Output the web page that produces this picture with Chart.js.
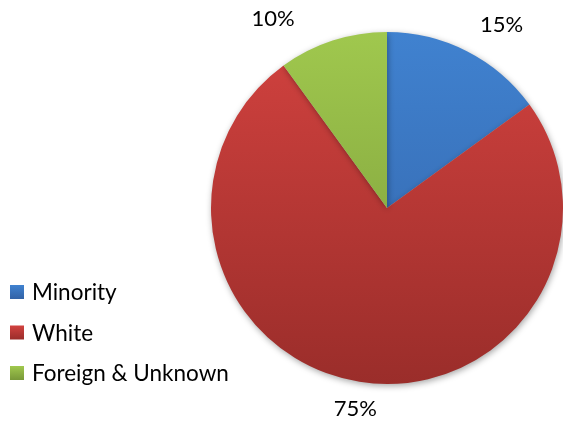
<!DOCTYPE html>
<html>
<head>
<meta charset="utf-8">
<script src="https://cdn.jsdelivr.net/npm/chart.js@4"></script>
<style>
  html, body { margin: 0; padding: 0; background: #fff; }
  #wrap { width: 563px; height: 422px; }
</style>
</head>
<body>
<div id="wrap"><canvas id="pieChart"></canvas></div>
<script>
// data
const categories = ['Minority', 'White', 'Foreign & Unknown'];
const shares = [15, 75, 10];
const topColors = ['#4082d0', '#d2423f', '#a0c84e'];
const bottomColors = ['#3262a6', '#9a2d2a', '#789838'];

const FONT = 'Lato, "Open Sans", sans-serif';

// vertical gradient for each slice, lighter on top
function sliceFill(ctx) {
  const chart = ctx.chart;
  const area = chart.chartArea;
  if (!area) return topColors[ctx.dataIndex];
  const g = chart.ctx.createLinearGradient(0, area.top, 0, area.bottom);
  g.addColorStop(0, topColors[ctx.dataIndex]);
  g.addColorStop(1, bottomColors[ctx.dataIndex]);
  return g;
}

// soft shadow under the pie
const shadowPlugin = {
  id: 'pieShadow',
  beforeDatasetsDraw(chart) {
    const c = chart.ctx;
    c.save();
    c.shadowColor = 'rgba(0,0,0,0.35)';
    c.shadowBlur = 6;
    c.shadowOffsetX = 1;
    c.shadowOffsetY = 2;
  },
  afterDatasetsDraw(chart) {
    chart.ctx.restore();
  }
};

// percentage labels outside the slices
const outsideLabels = {
  id: 'outsideLabels',
  afterDatasetsDraw(chart, args, opts) {
    const c = chart.ctx;
    const meta = chart.getDatasetMeta(0);
    c.save();
    c.font = '22px ' + FONT;
    c.fillStyle = '#000';
    c.textAlign = 'center';
    c.textBaseline = 'middle';
    meta.data.forEach((arc, i) => {
      const p = arc.getProps(['x', 'y', 'startAngle', 'endAngle', 'outerRadius'], true);
      const mid = (p.startAngle + p.endAngle) / 2 + opts.turn[i] * Math.PI / 180;
      const r = p.outerRadius + opts.gap[i];
      c.fillText(shares[i] + '%', p.x + Math.cos(mid) * r, p.y + Math.sin(mid) * r);
    });
    c.restore();
  }
};

// legend stacked at the lower left
const leftLegend = {
  id: 'leftLegend',
  afterDraw(chart, args, opts) {
    const c = chart.ctx;
    c.save();
    c.font = '22.5px ' + FONT;
    c.textBaseline = 'middle';
    categories.forEach((name, i) => {
      const y = opts.top + i * opts.step;
      const g = c.createLinearGradient(0, y - 7, 0, y + 7);
      g.addColorStop(0, topColors[i]);
      g.addColorStop(1, bottomColors[i]);
      c.fillStyle = g;
      c.fillRect(opts.left, y - 7, 14, 14);
      c.fillStyle = '#000';
      c.fillText(name, opts.left + 22, y + 1);
    });
    c.restore();
  }
};

new Chart(document.getElementById('pieChart'), {
  type: 'pie',
  data: {
    labels: categories,
    datasets: [{
      data: shares,
      backgroundColor: sliceFill,
      borderWidth: 0
    }]
  },
  options: {
    responsive: true,
    maintainAspectRatio: false,
    animation: false,
    layout: { padding: { left: 211, right: 0, top: 30, bottom: 36 } },
    plugins: {
      legend: { display: false },
      tooltip: { enabled: false },
      outsideLabels: { turn: [5, 0, -13], gap: [40, 27, 45] },
      leftLegend: { left: 10, top: 292, step: 40.5 }
    }
  },
  plugins: [shadowPlugin, outsideLabels, leftLegend]
});
</script>
</body>
</html>
